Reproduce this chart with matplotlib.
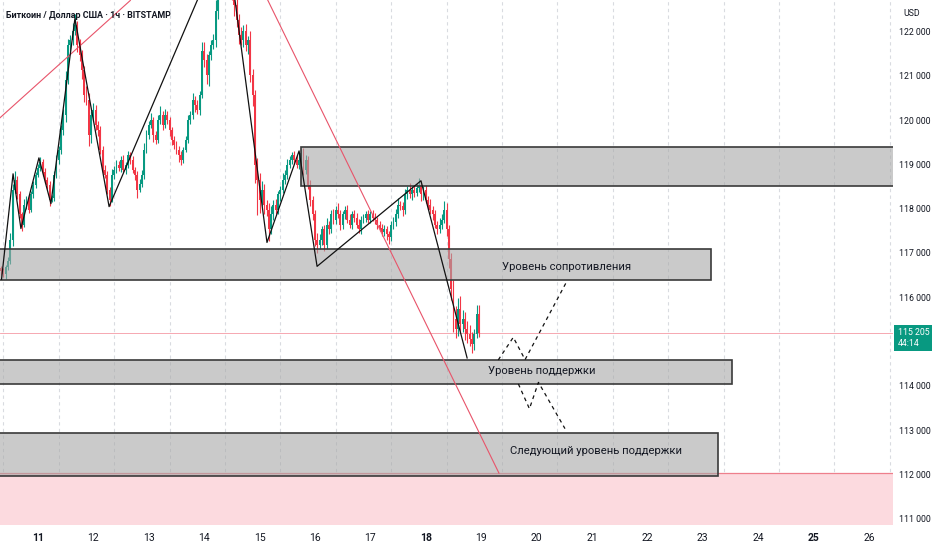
import numpy as np
import matplotlib.pyplot as plt
from matplotlib.patches import Rectangle

plt.rcParams['font.family'] = ['Roboto', 'DejaVu Sans']

# -----------------------------
# Данные: часовые свечи BTC/USD (часы от 11-го числа, 00:00)
# -----------------------------
first_open = 116650
closes = [
    # 10-е, вечер
    116590, 116520, 116680, 116810, 117300, 118430, 118650, 118320,
    117870, 117640, 118090, 118200, 117980, 118320, 118540, 118770,
    # 11-е
    118920, 119060, 118830, 118650, 118540, 118200, 118250, 118770,
    119100, 119330, 119780, 120110, 120900, 121690, 121800, 122020,
    122140, 121690, 121460, 121120, 120560, 120450, 119660, 120110,
    # 12-е
    120230, 119890, 119780, 119330, 118880, 118770, 118430, 118200,
    118770, 118880, 118990, 118920, 119100, 118880, 118990, 119210,
    119100, 118880, 118770, 118430, 118560, 118770, 119330, 119660,
    # 13-е
    119890, 120000, 119660, 119550, 120000, 120110, 119890, 120110,
    120000, 119780, 119550, 119440, 119330, 119210, 119100, 119330,
    119550, 120000, 120110, 120450, 120340, 120230, 120560, 121570,
    # 14-е
    121350, 121010, 121460, 121690, 121800, 122470, 123150, 123600,
    123820, 123370, 123710, 123150, 122920, 122590, 122250, 121910,
    121800, 122020, 121690, 121800, 121010, 120560, 118990, 118650,
    # 15-е
    118200, 118430, 118090, 117980, 117530, 117870, 118090, 117980,
    118320, 118430, 118650, 118770, 118990, 119100, 119210, 119100,
    118990, 119100, 119260, 118880, 119100, 118540, 118200, 117870,
    # 16-е
    117300, 117190, 117300, 117530, 117190, 117640, 117530, 117870,
    117750, 117980, 117870, 117640, 117870, 117980, 117750, 117640,
    117870, 117800, 117640, 117530, 117750, 117800, 117870, 117750,
    # 17-е
    117870, 117800, 117750, 117640, 117570, 117480, 117530, 117420,
    117350, 117640, 117710, 117870, 118090, 118050, 117980, 118320,
    118430, 118320, 118430, 118360, 118470, 118540, 118320, 118430,
    # 18-е
    118200, 118090, 117980, 117870, 117640, 117530, 117640, 117750,
    117980, 117530, 116860, 116180, 115510, 115280, 115730, 115390,
    115510, 115280, 115170, 115060, 114950, 115170, 115620, 115205,
]
upper_wick = [
    60, 80, 50, 100, 150, 120, 200, 90, 80, 60, 120, 80, 100, 70, 90, 60,
    80, 100, 60, 90, 70, 80, 60, 90, 120, 80, 100, 150, 200, 150, 120, 180,
    250, 100, 150, 120, 90, 200, 150, 100,
    150, 120, 100, 80, 90, 100, 70, 60, 120, 80, 100, 90, 80, 110, 70, 90,
    80, 100, 60, 90, 120, 100, 150, 120,
    100, 150, 80, 90, 120, 200, 100, 150, 90, 80, 70, 100, 90, 80, 100, 60,
    80, 120, 90, 150, 100, 120, 100, 200,
    200, 150, 100, 120, 150, 250, 200, 300, 250, 200, 150, 200, 150, 100, 180, 150,
    200, 120, 150, 100, 200, 150, 120, 150,
    150, 200, 120, 100, 150, 200, 100, 120, 90, 80, 150, 100, 120, 90, 80, 100,
    120, 150, 90, 100, 120, 80, 100, 90,
    100, 150, 120, 90, 100, 150, 80, 100, 120, 90, 150, 100, 80, 90, 100, 120,
    80, 90, 100, 120, 80, 90, 70, 100,
    80, 90, 100, 70, 80, 90, 100, 80, 70, 90, 100, 120, 150, 90, 100, 120,
    80, 150, 90, 100, 120, 150, 80, 90,
    100, 90, 120, 80, 100, 90, 150, 120, 200, 150, 100, 150, 200, 300, 250, 300,
    200, 150, 180, 200, 150, 120, 200, 200,
]
lower_wick = [
    80, 60, 100, 70, 60, 150, 80, 100, 90, 150, 60, 90, 80, 60, 70, 80,
    60, 80, 100, 70, 90, 150, 60, 80, 70, 90, 100, 120, 150, 80, 120, 100,
    90, 150, 120, 200, 150, 100, 250, 180,
    100, 120, 150, 90, 80, 70, 100, 150, 60, 90, 80, 70, 100, 60, 90, 80,
    100, 70, 120, 200, 60, 80, 100, 70,
    90, 70, 150, 100, 60, 80, 120, 70, 100, 150, 120, 90, 100, 150, 120, 80,
    60, 70, 90, 80, 150, 100, 120, 60,
    150, 200, 250, 100, 80, 150, 200, 250, 300, 200, 250, 150, 200, 250, 150, 200,
    100, 150, 120, 200, 150, 250, 400, 800,
    300, 150, 200, 150, 250, 100, 120, 90, 100, 150, 80, 100, 90, 80, 100, 90,
    80, 100, 150, 120, 90, 100, 150, 120,
    150, 200, 100, 120, 150, 90, 100, 80, 90, 100, 80, 120, 90, 100, 80, 70,
    90, 100, 80, 90, 100, 80, 90, 70,
    70, 80, 90, 100, 80, 90, 100, 120, 150, 80, 90, 100, 70, 80, 150, 90,
    100, 80, 120, 90, 80, 100, 150, 120,
    80, 90, 100, 120, 80, 100, 90, 100, 70, 150, 200, 250, 300, 200, 150, 200,
    180, 250, 200, 150, 200, 150, 100, 100,
]
first_hour = -16
current_price = 115205
timer_text = "44:14"

# уровни (цена низ, цена верх, час начала, час конца)
zone_top = (118513, 119393, 113.9, 400)
zone_resist = (116391, 117091, -30, 291.6)
zone_support = (114044, 114586, -30, 300.7)
zone_next = (111968, 112938, -30, 294.6)
pink_zone_top = 112030

# зигзаг (часы, цена)
zigzag_h = [-15.8, -10.8, -7.4, 0.4, 5.6, 16.0, 30.8, 81.5, 99.2, 113.1, 120.9, 165.9, 185.9]
zigzag_p = [116406, 118787, 117551, 119147, 118113, 122293, 118046, 124225, 117237,
            119304, 116698, 118630, 114630]
# прогноз (пунктир)
proj1_h = [199.4, 205.9, 211.0, 228.8]
proj1_p = [114586, 115096, 114592, 116331]
proj2_h = [208.1, 212.9, 216.8, 228.3]
proj2_p = [114044, 113484, 114080, 113035]
# красные трендовые линии
trend_up_h = [-16.5, 40.0]
trend_up_p = [120050, 122700]
trend_dn_h = [95.0, 199.7]
trend_dn_p = [123190, 112030]

day_labels = [str(d) for d in range(11, 27)]
bold_days = ["11", "18", "25"]
# 115 000 закрыт меткой текущей цены
price_ticks = [p for p in range(111000, 123000, 1000) if p != 115000]

GREEN = "#089981"
RED = "#f23645"
TXT = "#131722"

# -----------------------------
# Свечи
# -----------------------------
closes = np.array(closes, dtype=float)
opens = np.concatenate([[first_open], closes[:-1]])
highs = np.maximum(opens, closes) + np.array(upper_wick)
lows = np.minimum(opens, closes) - np.array(lower_wick)
hours = np.arange(len(closes)) + first_hour
colors = [GREEN if c >= o else RED for o, c in zip(opens, closes)]

fig = plt.figure(figsize=(9.32, 5.5), dpi=100)
ax = fig.add_axes([0, 25 / 550, 893 / 932, 525 / 550])
ax.set_xlim(-16.46, 370.4)
ax.set_ylim(110860, 122710)

# вертикальная сетка
for k in range(17):
    ax.axvline(24 * k - 15, color="#d9dbe0", lw=0.8, ls=(0, (3, 3)), zorder=0)

# розовая зона
ax.axhspan(110000, pink_zone_top, color="#fcdadf", lw=0, zorder=0.5)
ax.axhline(pink_zone_top, color="#ee7f8c", lw=0.9, zorder=0.6)

# линия текущей цены
ax.axhline(current_price, color="#f59aa5", lw=0.6, zorder=0.7)

ax.vlines(hours, lows, highs, colors=colors, lw=0.8, zorder=2)
body_lo = np.minimum(opens, closes)
body_h = np.maximum(np.abs(closes - opens), 25)
ax.bar(hours, body_h, bottom=body_lo, width=0.82, color=colors, lw=0, zorder=2)

# серые зоны
for lo, hi, h0, h1 in [zone_top, zone_resist, zone_support, zone_next]:
    ax.add_patch(Rectangle((h0, lo), h1 - h0, hi - lo,
                           facecolor=(0.66, 0.66, 0.66, 0.6),
                           edgecolor="#3a3a3a", lw=1.2, zorder=3))

# линии
ax.plot(trend_up_h, trend_up_p, color="#e8546a", lw=0.8, zorder=4)
ax.plot(trend_dn_h, trend_dn_p, color="#e8546a", lw=0.8, zorder=4)
ax.plot(zigzag_h, zigzag_p, color="#111111", lw=0.9, zorder=5)
ax.plot(proj1_h, proj1_p, color="#111111", lw=0.9, ls=(0, (3, 3)), zorder=5)
ax.plot(proj2_h, proj2_p, color="#111111", lw=0.9, ls=(0, (3, 3)), zorder=5)

# подписи зон
ax.text(228.8, 116690, "Уровень сопротивления", ha="center", va="center",
        fontsize=8.1, color=TXT, zorder=6)
ax.text(218.2, 114330, "Уровень поддержки", ha="center", va="center",
        fontsize=8.1, color=TXT, zorder=6)
ax.text(241.8, 112520, "Следующий уровень поддержки", ha="center", va="center",
        fontsize=8.1, color=TXT, zorder=6)

# оси
for s in ax.spines.values():
    s.set_visible(False)
ax.set_xticks([24 * i for i in range(len(day_labels))])
ax.set_xticklabels(day_labels)
for lbl in ax.get_xticklabels():
    if lbl.get_text() in bold_days:
        lbl.set_fontweight("bold")
ax.yaxis.tick_right()
ax.set_yticks(price_ticks)
ax.set_yticklabels([f"{p // 1000} {p % 1000:03d}" for p in price_ticks])
ax.tick_params(axis="x", length=0, pad=6, labelsize=7.5, labelcolor=TXT)
ax.tick_params(axis="y", length=0, pad=4, labelsize=6.3, labelcolor=TXT)

# метка текущей цены
ax.annotate(f"{current_price // 1000} {current_price % 1000:03d}\n{timer_text}",
            xy=(1.0, current_price), xycoords=("axes fraction", "data"),
            xytext=(3.5, -4), textcoords="offset points", ha="left", va="center",
            fontsize=6.3, color="white", linespacing=1.25, annotation_clip=False,
            bbox=dict(boxstyle="square,pad=0.4", fc=GREEN, ec="none"))

fig.text(6 / 932, 1 - 15 / 550, "Биткоин / Доллар США · 1ч · BITSTAMP",
         fontsize=6.4, fontweight="bold", color=TXT, va="center")
fig.text(903 / 932, 1 - 14 / 550, "USD", fontsize=6.3, color=TXT, va="center")

fig.savefig("out.png", dpi=100, facecolor="white")
